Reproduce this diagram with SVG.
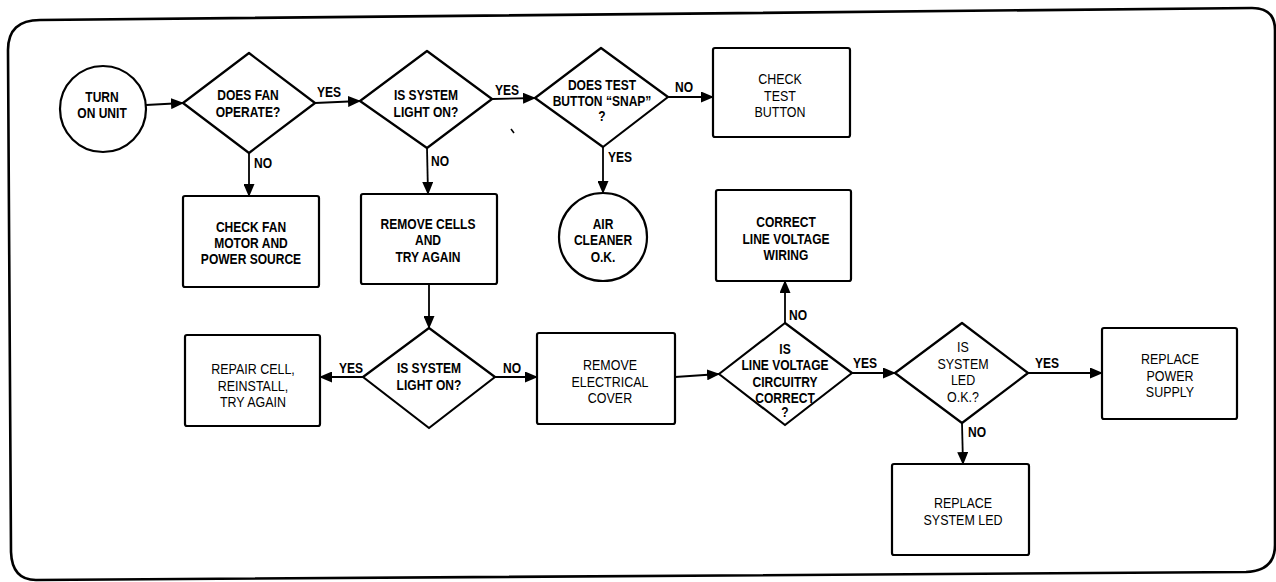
<svg xmlns="http://www.w3.org/2000/svg" width="1276" height="582" viewBox="0 0 1276 582">
<defs>
<style>
.shape{fill:#fff;stroke:#000;stroke-width:2.2;stroke-linejoin:round}
.frame{fill:none;stroke:#000;stroke-width:2.6}
.conn{fill:none;stroke:#000;stroke-width:1.8}
.b{font-family:"Liberation Sans",Arial,sans-serif;font-weight:bold;font-size:14px;text-anchor:middle;fill:#000}
.r{font-family:"Liberation Sans",Arial,sans-serif;font-weight:normal;font-size:14.5px;text-anchor:middle;fill:#000}
.lb{font-family:"Liberation Sans",Arial,sans-serif;font-weight:bold;font-size:14px;text-anchor:start;fill:#000}
</style>
<marker id="arr" markerUnits="userSpaceOnUse" markerWidth="13" markerHeight="11" refX="12" refY="5.5" orient="auto">
<path d="M0,0 L13,5.5 L0,11 Z" fill="#000"/>
</marker>
</defs>
<rect width="1276" height="582" fill="#fff"/>
<path class="frame" d="M8,50 Q8,20 40,20 L1252,8 Q1275,8 1275,30 L1275,545 Q1275,571 1246,572 L36,580 Q12,580 11,552 Z"/>
<path d="M511,129 L514,133" stroke="#000" stroke-width="1.5"/>

<g id="connectors">
<path class="conn" d="M146,105 L183,103" marker-end="url(#arr)"/>
<path class="conn" d="M315,103 L360,101" marker-end="url(#arr)"/>
<path class="conn" d="M492,99 L535,98" marker-end="url(#arr)"/>
<path class="conn" d="M668,97 L713,97" marker-end="url(#arr)"/>
<path class="conn" d="M249,153 L249,196" marker-end="url(#arr)"/>
<path class="conn" d="M427,148 L428,194" marker-end="url(#arr)"/>
<path class="conn" d="M603,147 L603,193" marker-end="url(#arr)"/>
<path class="conn" d="M429,284 L429,328" marker-end="url(#arr)"/>
<path class="conn" d="M363,377 L320,377" marker-end="url(#arr)"/>
<path class="conn" d="M495,377 L537,377" marker-end="url(#arr)"/>
<path class="conn" d="M675,377 L719,374" marker-end="url(#arr)"/>
<path class="conn" d="M785,323 L785,281" marker-end="url(#arr)"/>
<path class="conn" d="M852,373 L895,373" marker-end="url(#arr)"/>
<path class="conn" d="M1028,373 L1102,373" marker-end="url(#arr)"/>
<path class="conn" d="M962,423 L963,464" marker-end="url(#arr)"/>
<text class="lb" transform="translate(317,97) scale(0.86,1)">YES</text>
<text class="lb" transform="translate(495,95) scale(0.86,1)">YES</text>
<text class="lb" transform="translate(675,92) scale(0.86,1)">NO</text>
<text class="lb" transform="translate(254,168) scale(0.86,1)">NO</text>
<text class="lb" transform="translate(431,166) scale(0.86,1)">NO</text>
<text class="lb" transform="translate(608,162) scale(0.86,1)">YES</text>
<text class="lb" transform="translate(339,373) scale(0.86,1)">YES</text>
<text class="lb" transform="translate(503,373) scale(0.86,1)">NO</text>
<text class="lb" transform="translate(789,320) scale(0.86,1)">NO</text>
<text class="lb" transform="translate(853,368) scale(0.86,1)">YES</text>
<text class="lb" transform="translate(1035,368) scale(0.86,1)">YES</text>
<text class="lb" transform="translate(968,437) scale(0.86,1)">NO</text>
</g>

<g id="turn-on-unit">
<circle class="shape" cx="103" cy="109" r="43"/>
<text class="b" transform="translate(102,102) scale(0.86,1)">TURN</text>
<text class="b" transform="translate(102,118) scale(0.86,1)">ON UNIT</text>
</g>

<g id="does-fan-operate">
<polygon class="shape" points="183,103 249,53 315,103 249,153"/>
<text class="b" transform="translate(248,100) scale(0.86,1)">DOES FAN</text>
<text class="b" transform="translate(248,117) scale(0.86,1)">OPERATE?</text>
</g>

<g id="is-system-light-on-1">
<polygon class="shape" points="360,101 427,51 492,99 427,148"/>
<text class="b" transform="translate(426,100) scale(0.86,1)">IS SYSTEM</text>
<text class="b" transform="translate(426,117) scale(0.86,1)">LIGHT ON?</text>
</g>

<g id="does-test-button-snap">
<polygon class="shape" points="535,98 601,48 668,97 603,147"/>
<text class="b" transform="translate(602,90) scale(0.86,1)">DOES TEST</text>
<text class="b" transform="translate(602,106) scale(0.86,1)">BUTTON “SNAP”</text>
<text class="b" transform="translate(602,121) scale(0.86,1)">?</text>
</g>

<g id="check-test-button">
<rect class="shape" x="713" y="48" width="137" height="89" rx="2"/>
<text class="r" transform="translate(780,84) scale(0.86,1)">CHECK</text>
<text class="r" transform="translate(780,100.5) scale(0.86,1)">TEST</text>
<text class="r" transform="translate(780,117) scale(0.86,1)">BUTTON</text>
</g>

<g id="check-fan-motor">
<rect class="shape" x="183" y="196" width="136" height="91" rx="2"/>
<text class="b" transform="translate(251,232) scale(0.86,1)">CHECK FAN</text>
<text class="b" transform="translate(251,248) scale(0.86,1)">MOTOR AND</text>
<text class="b" transform="translate(251,264) scale(0.86,1)">POWER SOURCE</text>
</g>

<g id="remove-cells">
<rect class="shape" x="361" y="194" width="136" height="90" rx="2"/>
<text class="b" transform="translate(428,229) scale(0.86,1)">REMOVE CELLS</text>
<text class="b" transform="translate(428,245) scale(0.86,1)">AND</text>
<text class="b" transform="translate(428,262) scale(0.86,1)">TRY AGAIN</text>
</g>

<g id="air-cleaner-ok">
<circle class="shape" cx="603" cy="237" r="44"/>
<text class="b" transform="translate(603,229) scale(0.86,1)">AIR</text>
<text class="b" transform="translate(603,245) scale(0.86,1)">CLEANER</text>
<text class="b" transform="translate(603,262) scale(0.86,1)">O.K.</text>
</g>

<g id="is-system-light-on-2">
<polygon class="shape" points="363,377 429,328 495,377 429,428"/>
<text class="b" transform="translate(429,373) scale(0.86,1)">IS SYSTEM</text>
<text class="b" transform="translate(429,390) scale(0.86,1)">LIGHT ON?</text>
</g>

<g id="repair-cell">
<rect class="shape" x="185" y="335" width="135" height="91" rx="2"/>
<text class="r" transform="translate(253,374) scale(0.86,1)">REPAIR CELL,</text>
<text class="r" transform="translate(253,390.5) scale(0.86,1)">REINSTALL,</text>
<text class="r" transform="translate(253,407) scale(0.86,1)">TRY AGAIN</text>
</g>

<g id="remove-electrical-cover">
<rect class="shape" x="537" y="333" width="138" height="91" rx="2"/>
<text class="r" transform="translate(610,370) scale(0.86,1)">REMOVE</text>
<text class="r" transform="translate(610,386.5) scale(0.86,1)">ELECTRICAL</text>
<text class="r" transform="translate(610,403) scale(0.86,1)">COVER</text>
</g>

<g id="line-voltage-correct">
<polygon class="shape" points="719,374 785,323 852,373 785,425"/>
<text class="b" transform="translate(785,354) scale(0.86,1)">IS</text>
<text class="b" transform="translate(785,370) scale(0.86,1)">LINE VOLTAGE</text>
<text class="b" transform="translate(785,387) scale(0.86,1)">CIRCUITRY</text>
<text class="b" transform="translate(785,403) scale(0.86,1)">CORRECT</text>
<text class="b" transform="translate(785,417) scale(0.86,1)">?</text>
</g>

<g id="correct-line-voltage-wiring">
<rect class="shape" x="716" y="190" width="135" height="91" rx="2"/>
<text class="b" transform="translate(786,227) scale(0.86,1)">CORRECT</text>
<text class="b" transform="translate(786,244) scale(0.86,1)">LINE VOLTAGE</text>
<text class="b" transform="translate(786,260) scale(0.86,1)">WIRING</text>
</g>

<g id="system-led-ok">
<polygon class="shape" points="895,373 962,323 1028,373 962,423"/>
<text class="r" transform="translate(963,352) scale(0.86,1)">IS</text>
<text class="r" transform="translate(963,368.5) scale(0.86,1)">SYSTEM</text>
<text class="r" transform="translate(963,385) scale(0.86,1)">LED</text>
<text class="r" transform="translate(963,401.5) scale(0.86,1)">O.K.?</text>
</g>

<g id="replace-power-supply">
<rect class="shape" x="1102" y="328" width="135" height="91" rx="2"/>
<text class="r" transform="translate(1170,364) scale(0.86,1)">REPLACE</text>
<text class="r" transform="translate(1170,380.5) scale(0.86,1)">POWER</text>
<text class="r" transform="translate(1170,397) scale(0.86,1)">SUPPLY</text>
</g>

<g id="replace-system-led">
<rect class="shape" x="892" y="464" width="137" height="91" rx="2"/>
<text class="r" transform="translate(963,508) scale(0.86,1)">REPLACE</text>
<text class="r" transform="translate(963,524.5) scale(0.86,1)">SYSTEM LED</text>
</g>
</svg>
